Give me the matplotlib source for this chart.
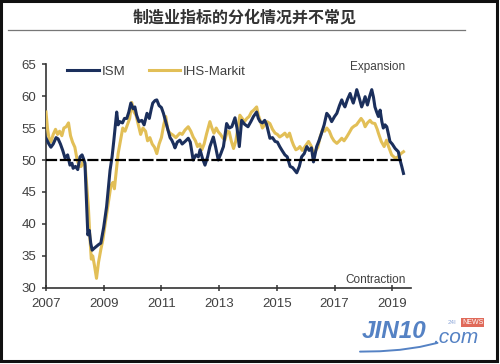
import matplotlib
matplotlib.use("Agg")
import matplotlib.pyplot as plt
from matplotlib.patches import Rectangle
from matplotlib.lines import Line2D

ism_x = [2007.0, 2007.1, 2007.17, 2007.25, 2007.35, 2007.42, 2007.5, 2007.58, 2007.66, 2007.75,
         2007.83, 2007.9, 2007.94, 2008.02, 2008.1, 2008.18, 2008.25, 2008.3, 2008.35, 2008.4,
         2008.45, 2008.5, 2008.55, 2008.6, 2008.67, 2008.75, 2008.83, 2008.9, 2009.0, 2009.1,
         2009.22, 2009.29, 2009.35, 2009.45, 2009.5, 2009.56, 2009.65, 2009.72, 2009.8, 2009.87,
         2009.94, 2010.02, 2010.08, 2010.14, 2010.22, 2010.32, 2010.4, 2010.5, 2010.58, 2010.65,
         2010.7, 2010.78, 2010.84, 2010.92, 2011.0, 2011.07, 2011.15, 2011.23, 2011.3, 2011.36,
         2011.42, 2011.47, 2011.55, 2011.64, 2011.72, 2011.82, 2011.93, 2012.0, 2012.1, 2012.2,
         2012.28, 2012.34, 2012.42, 2012.51, 2012.6, 2012.68, 2012.8, 2012.88, 2012.97, 2013.06,
         2013.15, 2013.26, 2013.35, 2013.44, 2013.55, 2013.62, 2013.7, 2013.78, 2013.88, 2014.0,
         2014.1, 2014.19, 2014.3, 2014.36, 2014.42, 2014.5, 2014.58, 2014.65, 2014.76, 2014.85,
         2014.94, 2015.02, 2015.1, 2015.18, 2015.28, 2015.36, 2015.46, 2015.55, 2015.62, 2015.69,
         2015.78, 2015.86, 2015.95, 2016.04, 2016.12, 2016.2, 2016.27, 2016.33, 2016.38, 2016.46,
         2016.55, 2016.64, 2016.73, 2016.82, 2016.9, 2017.0, 2017.08, 2017.17, 2017.25, 2017.3,
         2017.36, 2017.45, 2017.54, 2017.6, 2017.65, 2017.72, 2017.77, 2017.85, 2017.94, 2018.0,
         2018.06, 2018.14, 2018.22, 2018.29, 2018.35, 2018.4, 2018.46, 2018.52, 2018.58, 2018.64,
         2018.69, 2018.75, 2018.81, 2018.87, 2018.92, 2019.0, 2019.1, 2019.21, 2019.27, 2019.33,
         2019.39]
ism_y = [53.4, 52.5, 52.0, 52.5, 53.5, 53.3, 52.5, 51.5, 50.3, 50.8,
         49.2, 49.5, 48.7, 49.0, 48.5, 50.5, 50.8, 50.2, 49.5, 44.0,
         38.3, 39.0, 37.0, 35.9, 36.2, 36.5, 36.8, 37.0, 39.5, 42.7,
         48.4, 50.5, 53.0, 57.5, 55.5, 56.0, 55.8, 56.5, 56.5, 57.5,
         58.9, 58.0, 58.3, 57.0, 56.0, 56.2, 55.5, 57.3, 56.5, 58.0,
         58.9, 59.3, 59.4, 58.5, 58.2, 57.3, 56.0, 54.7, 53.5, 53.1,
         52.5, 51.9, 52.8, 53.1, 52.5, 52.9, 53.4, 52.8, 50.0, 50.8,
         50.5, 51.6, 50.3, 49.2, 50.5, 52.1, 53.6, 52.0, 50.0, 51.0,
         52.1, 55.7, 55.0, 55.2, 56.6, 55.0, 52.1, 56.2, 55.6, 55.2,
         56.0, 56.8, 57.5, 56.5, 56.0, 55.8, 56.2, 55.5, 53.4, 53.5,
         52.9, 52.8, 52.1, 51.5, 50.8, 50.5, 49.0, 48.8, 48.4, 48.0,
         49.0, 50.5, 51.0, 52.1, 51.5, 51.9, 49.7, 51.0, 52.1, 53.0,
         54.2, 55.5, 57.3, 56.8, 56.0, 56.8, 57.3, 58.5, 59.4, 58.8,
         58.3, 59.5, 60.4, 59.5, 58.9, 60.0, 61.0, 59.8, 58.3, 59.0,
         59.9, 58.6, 60.0, 61.0, 59.8, 58.3, 57.5, 56.8, 57.8, 56.0,
         55.0, 55.5, 55.2, 54.0, 52.9, 52.5, 51.8, 51.3, 50.0, 49.0,
         47.9]

ihs_x = [2007.0, 2007.05, 2007.1, 2007.17, 2007.25, 2007.33, 2007.4, 2007.47, 2007.55, 2007.62,
         2007.7, 2007.78, 2007.85, 2007.92, 2008.0, 2008.08, 2008.15, 2008.22, 2008.3, 2008.36,
         2008.42, 2008.47, 2008.52, 2008.57, 2008.62, 2008.68, 2008.75, 2008.82, 2008.9, 2008.97,
         2009.05, 2009.15, 2009.25, 2009.32, 2009.37, 2009.43, 2009.5, 2009.58, 2009.66, 2009.74,
         2009.82, 2009.9, 2009.97, 2010.05, 2010.12, 2010.2, 2010.28, 2010.36, 2010.45, 2010.52,
         2010.6, 2010.68, 2010.76, 2010.84, 2010.92, 2011.0, 2011.08, 2011.15, 2011.22, 2011.3,
         2011.4, 2011.5, 2011.64, 2011.72, 2011.82, 2011.93, 2012.02, 2012.1, 2012.18, 2012.25,
         2012.33, 2012.4, 2012.48, 2012.56, 2012.62, 2012.68, 2012.75, 2012.82, 2012.9, 2012.97,
         2013.05, 2013.12, 2013.2, 2013.28, 2013.35, 2013.42, 2013.5, 2013.58, 2013.65, 2013.72,
         2013.8, 2013.88, 2013.96, 2014.04, 2014.12, 2014.2, 2014.3, 2014.36, 2014.42, 2014.5,
         2014.58, 2014.66, 2014.76, 2014.85, 2014.94, 2015.02, 2015.1, 2015.2, 2015.28, 2015.36,
         2015.44, 2015.52, 2015.58, 2015.66, 2015.74, 2015.8, 2015.88, 2015.96, 2016.1, 2016.2,
         2016.28, 2016.35, 2016.42, 2016.5, 2016.58, 2016.66, 2016.73, 2016.82, 2016.9, 2016.98,
         2017.08, 2017.17, 2017.25, 2017.33, 2017.42, 2017.5, 2017.6, 2017.68, 2017.76, 2017.84,
         2017.92, 2018.0, 2018.06, 2018.14, 2018.23, 2018.3, 2018.4, 2018.48, 2018.52, 2018.62,
         2018.72, 2018.8, 2018.88, 2018.98, 2019.05, 2019.1, 2019.21, 2019.3, 2019.39]
ihs_y = [57.5, 55.0, 53.5, 52.8, 54.0, 54.8, 54.0, 54.5, 53.8, 55.0,
         55.2, 55.8, 53.8, 52.8, 52.0, 50.0, 49.0, 49.0, 50.0, 49.0,
         45.5, 42.5, 38.0, 34.5, 35.0, 33.5, 31.5, 34.0, 36.0, 37.5,
         40.0, 43.0, 46.0, 46.5, 45.5, 48.0, 51.0, 53.0, 55.0, 54.5,
         55.5, 56.5, 59.0, 57.5, 57.0, 55.5, 54.0, 55.0, 54.5, 53.0,
         53.5, 52.5, 52.0, 51.0, 52.5, 53.5, 55.5, 56.8, 54.7, 54.2,
         53.9, 53.5, 54.2, 54.0, 54.7, 55.2, 54.5, 53.6, 53.0, 52.1,
         52.5, 51.6, 52.5, 54.0, 55.0, 56.0, 55.0, 54.2, 55.0, 54.4,
         54.0, 53.5, 53.1, 54.5, 54.4, 53.0, 51.8, 53.0, 55.0, 57.0,
         56.5, 56.0, 56.5, 56.8, 57.5, 57.8, 58.3, 57.0, 56.2, 55.0,
         55.5, 56.0, 55.7, 54.8, 54.2, 54.0, 53.6, 53.9, 54.2, 53.6,
         54.2, 53.0, 52.3, 51.6, 51.8, 52.1, 51.5, 52.0, 52.9, 52.1,
         50.8, 51.5, 52.0, 53.6, 54.7, 54.5, 55.0, 54.5, 53.6, 53.0,
         52.6, 53.0, 53.4, 53.0, 53.6, 54.2, 55.0, 55.3, 55.5, 56.0,
         56.5, 56.0, 55.2, 55.8, 56.2, 55.8, 55.7, 54.8, 54.2, 52.9,
         52.1, 53.1, 52.0, 50.8, 50.5, 50.3, 50.5, 51.0, 51.3]

year_ticks = [2007, 2009, 2011, 2013, 2015, 2017, 2019]
value_ticks = [30, 35, 40, 45, 50, 55, 60, 65]
threshold = 50

ISM_C = "#1b2f5c"
IHS_C = "#e2bf57"
TXT = "#404040"
WM = "#5582c4"

plt.rcParams['font.family'] = ['Liberation Sans', 'DejaVu Sans']

fig = plt.figure(figsize=(5.0, 3.64), dpi=100)
fig.patch.set_facecolor("white")

# frame
fig.add_artist(Rectangle((0.002, 0.008), 0.992, 0.99, transform=fig.transFigure,
                         fill=False, edgecolor="#111111", linewidth=2.2))

fig.text(0.49, 0.953, "制造业指标的分化情况并不常见", ha="center", va="center",
         fontsize=11.5, fontweight="bold", color="#333333",
         family=['Noto Sans CJK SC', 'DejaVu Sans'])
fig.add_artist(Line2D([0.016, 0.93], [0.918, 0.918], transform=fig.transFigure,
                      color="#777777", linewidth=0.9))

ax = fig.add_axes([0.092, 0.209, 0.73, 0.615])
ax.plot(ihs_x, ihs_y, color=IHS_C, linewidth=2.2, label="IHS-Markit", zorder=3)
ax.plot(ism_x, ism_y, color=ISM_C, linewidth=2.2, label="ISM", zorder=4)
ax.plot([2007.0, 2019.4], [threshold, threshold], color="black", linewidth=1.6,
        linestyle=(0, (5, 1.2)), zorder=5)

ax.set_xlim(2007, 2019.65)
ax.set_ylim(30, 65)
ax.set_xticks(year_ticks)
ax.set_xticklabels([str(t) for t in year_ticks])
ax.set_yticks(value_ticks)
for s in ["top", "right"]:
    ax.spines[s].set_visible(False)
for s in ["left", "bottom"]:
    ax.spines[s].set_color("#333333")
    ax.spines[s].set_linewidth(1.2)
ax.tick_params(axis="x", direction="inout", length=5, width=1.1, colors="#333333",
               labelsize=9.5, labelcolor=TXT, pad=5)
ax.tick_params(axis="y", direction="out", length=3, width=1.1, colors="#333333",
               labelsize=9.5, labelcolor=TXT, pad=4)

h, l = ax.get_legend_handles_labels()
ax.legend(h[::-1], l[::-1], loc="upper left", bbox_to_anchor=(0.025, 1.045), ncol=2,
          frameon=False, fontsize=9.5, handlelength=2.4, columnspacing=1.8,
          handletextpad=0.2, labelcolor=TXT)

ax.text(0.985, 0.985, "Expansion", transform=ax.transAxes, ha="right", va="center",
        fontsize=8.5, color=TXT)
ax.text(0.985, 0.035, "Contraction", transform=ax.transAxes, ha="right", va="center",
        fontsize=8.5, color=TXT)

# watermark
fig.text(0.724, 0.09, "JIN10", fontsize=17.5, fontweight="bold", style="italic",
         color=WM, ha="left", va="center")
fig.text(0.866, 0.074, ".com", fontsize=15, style="italic", color=WM,
         ha="left", va="center")
fig.add_artist(Line2D([0.72, 0.76, 0.80, 0.84, 0.875], [0.034, 0.035, 0.039, 0.047, 0.058],
                      transform=fig.transFigure, color=WM, linewidth=1.4,
                      solid_capstyle="round"))
fig.text(0.896, 0.113, "24I", fontsize=4.5, color="#8aa5d8", ha="left", va="center")
fig.text(0.924, 0.115, "NEWS", fontsize=5, color="white", ha="left", va="center",
         bbox=dict(boxstyle="square,pad=0.15", facecolor="#e06a5a", edgecolor="none"))

fig.savefig("out.png", dpi=100)
